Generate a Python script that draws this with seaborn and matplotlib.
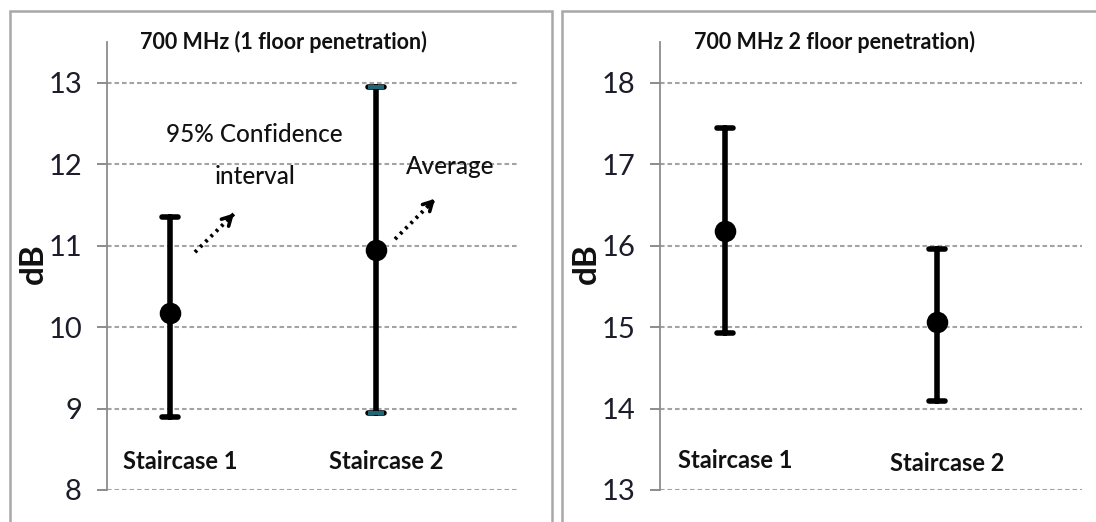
import matplotlib
matplotlib.use("Agg")
import matplotlib.pyplot as plt
import matplotlib.patches as mpatches
import numpy as np
import pandas as pd
import seaborn as sns

# Penetration loss per staircase: mean and 95% confidence bounds (dB)
categories = ["Staircase 1", "Staircase 2"]

one_floor_mean = [10.17, 10.95]
one_floor_low = [8.90, 8.94]
one_floor_high = [11.35, 12.95]

two_floor_mean = [16.18, 15.06]
two_floor_low = [14.93, 14.09]
two_floor_high = [17.44, 15.96]

one_floor_ticks = [8, 9, 10, 11, 12, 13]
two_floor_ticks = [13, 14, 15, 16, 17, 18]

one_floor_title = "700 MHz (1 floor penetration)"
two_floor_title = "700 MHz 2 floor penetration)"

sns.set_theme(style="white")
plt.rcParams["font.family"] = ["Lato", "DejaVu Sans"]

GRID = "#a3a3a3"
AXIS = "#8c8c8c"
FRAME = "#a8a8a8"
TEAL = "#1f6676"
INK = "#111111"


def interval_frame(low, mean, high):
    # three rows per category: median gives the mean, the full range gives the CI
    rows = []
    for cat, lo, m, hi in zip(categories, low, mean, high):
        for v in (lo, m, hi):
            rows.append({"cat": cat, "val": v})
    return pd.DataFrame(rows)


def draw_panel(ax, low, mean, high, ticks, xlim):
    df = interval_frame(low, mean, high)
    sns.pointplot(
        data=df, x="cat", y="val", order=categories,
        estimator="median", errorbar=("pi", 100),
        color="black", linestyle="none", marker="o", markersize=13.5,
        capsize=0.075, err_kws={"linewidth": 4.0}, ax=ax, zorder=5,
    )
    ax.set_xlim(*xlim)
    ax.set_ylim(ticks[0], ticks[-1] + 0.5)
    ax.set_yticks(ticks)
    ax.set_yticklabels([str(t) for t in ticks], fontsize=21, color="#1c1c2a")
    for t in ticks:
        ax.axhline(t, color=GRID, lw=1.5, ls=(0, (2.2, 1.4)), zorder=1)
    for side in ("top", "right", "bottom"):
        ax.spines[side].set_visible(False)
    ax.spines["left"].set_color(AXIS)
    ax.spines["left"].set_linewidth(1.3)
    ax.tick_params(axis="y", which="major", left=True, length=7, width=1.4,
                   color=AXIS, pad=11)
    ax.tick_params(axis="x", length=0, labelbottom=False)
    ax.set_xlabel("")
    ax.set_ylabel("")
    ax.grid(False)
    ax.patch.set_alpha(0)


fig = plt.figure(figsize=(10.96, 5.22), dpi=100)
fig.patch.set_facecolor("white")

# panel frames
fig.add_artist(mpatches.Rectangle((10 / 1096, -0.1), 542 / 1096, 1.1 - 11 / 522,
                                  transform=fig.transFigure, fill=False,
                                  ec=FRAME, lw=1.8))
fig.add_artist(mpatches.Rectangle((562 / 1096, -0.1), 560 / 1096, 1.1 - 11 / 522,
                                  transform=fig.transFigure, fill=False,
                                  ec=FRAME, lw=1.8))

ax1 = fig.add_axes([107 / 1096, 32 / 522, 411 / 1096, 448 / 522])
ax2 = fig.add_axes([660 / 1096, 32 / 522, 422 / 1096, 448 / 522])

draw_panel(ax1, one_floor_low, one_floor_mean, one_floor_high,
           one_floor_ticks, (-0.306, 1.689))
draw_panel(ax2, two_floor_low, two_floor_mean, two_floor_high,
           two_floor_ticks, (-0.307, 1.684))

# teal-tinted caps on the second staircase (1 floor)
ax1.hlines([one_floor_low[1], one_floor_high[1]], 1 - 0.037, 1 + 0.037,
           color=TEAL, lw=3.0, zorder=6)

# category labels inside the plot area
for ax, ys in ((ax1, (8.35, 8.35)), (ax2, (13.36, 13.33))):
    for i, (cat, y) in enumerate(zip(categories, ys)):
        ax.text(i + 0.05, y, cat, ha="center", va="center", fontsize=17,
                fontweight="bold", color=INK)

# titles and axis names
fig.text(283 / 1096, 1 - 42 / 522, one_floor_title, ha="center", va="center",
         fontsize=15.5, fontweight="bold", color=INK)
fig.text(835 / 1096, 1 - 42 / 522, two_floor_title, ha="center", va="center",
         fontsize=15.5, fontweight="bold", color=INK)
fig.text(33 / 1096, 1 - 264 / 522, "dB", rotation=90, ha="center", va="center",
         fontsize=24, fontweight="bold", color=INK)
fig.text(586 / 1096, 1 - 264 / 522, "dB", rotation=90, ha="center", va="center",
         fontsize=24, fontweight="bold", color=INK)

# callouts
ax1.text(0.408, 12.37, "95% Confidence", ha="center", va="center", fontsize=17.5,
         fontweight="medium", color=INK)
ax1.text(0.413, 11.85, "interval", ha="center", va="center", fontsize=17.5,
         fontweight="medium", color=INK)
ax1.text(1.36, 11.97, "Average", ha="center", va="center", fontsize=17.5,
         fontweight="medium", color=INK)

for (x0, y0), (x1, y1) in (((0.121, 10.92), (0.320, 11.42)),
                           ((1.092, 11.08), (1.296, 11.60))):
    ax1.plot([x0, x1 - 0.01], [y0, y1 - 0.03], color="black", lw=2.8,
             ls=(0, (0.7, 1.2)), zorder=7)
    ax1.annotate("", xy=(x1, y1), xytext=(x1 - 0.05, y1 - 0.13),
                 arrowprops=dict(arrowstyle="->,head_length=0.55,head_width=0.3",
                                 color="black", lw=2.6),
                 zorder=7)

fig.savefig("out.png", dpi=100, facecolor="white")
